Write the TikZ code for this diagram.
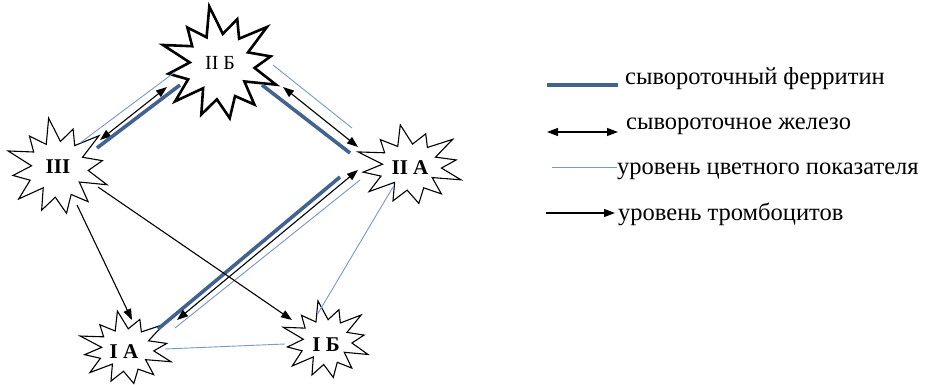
\documentclass[tikz,border=0pt]{standalone}
\usepackage{fontspec}
\setmainfont{Liberation Serif}
\usetikzlibrary{arrows.meta,calc}

\definecolor{ferrblue}{RGB}{66,98,146}
\definecolor{cpblue}{RGB}{122,152,200}

\tikzset{
  stage/.style={font=\fontsize{21}{23}\selectfont\bfseries, inner sep=0pt},
  stagelight/.style={font=\fontsize{20}{22}\selectfont, inner sep=0pt},
  legtext/.style={font=\fontsize{24.5}{26}\selectfont, inner sep=0pt, anchor=base west},
  ferritin/.style={draw=ferrblue, line width=3.6pt},
  colorindex/.style={draw=cpblue, line width=0.9pt},
  plateletline/.style={draw=black, line width=1.1pt, -{Triangle[length=11pt,width=8pt]}},
  ironline/.style={draw=black, line width=1.1pt, {Triangle[length=11pt,width=8pt]}-{Triangle[length=11pt,width=8pt]}},
  burstline/.style={draw=black, line width=1.1pt, line join=miter, fill=white},
}

% explosion outline: centre shift, x radius, y radius, number of points
\newcommand\drawburst[5][]{%
  \draw[burstline,#1,shift={(#2)}]
    plot[domain=0:2*#5-1, samples=2*#5, variable=\k]
      ({(#3)*(1+0.1*sin(\k*97))*(1-0.42*mod(round(\k),2))*cos(\k*180/#5+80)},
       {(#4)*(1+0.1*sin(\k*97))*(1-0.42*mod(round(\k),2))*sin(\k*180/#5+80)}) -- cycle;}

\begin{document}
\begin{tikzpicture}[x=1pt,y=-1pt]
\useasboundingbox (0,0) rectangle (927,385);

% stage outlines
\drawburst[line width=2.6pt]{220,65}{56}{54}{12}
\drawburst{58,168}{49}{46}{12}
\drawburst{410,166}{51}{38}{12}
\drawburst{126,349}{45}{35}{12}
\drawburst{326,341}{42}{37}{12}

% stage labels
\node[stagelight] (IIB) at (220,63) {II Б};
\node[stage] (III) at (58,167) {III};
\node[stage] (IIA) at (410,168) {II A};
\node[stage] (IA) at (124,352) {I A};
\node[stage] (IB) at (326,345) {I Б};

% III -- II Б
\draw[colorindex] ($(III)+(22,-24)$) -- ($(IIB)+(-45,9)$);
\draw[ironline] ($(III)+(42,-27)$) -- ($(IIB)+(-53,24)$);
\draw[ferritin] ($(III)+(39,-19)$) -- ($(IIB)+(-40,22)$);

% II Б -- II A
\draw[ferritin] ($(IIB)+(42,22)$) -- ($(IIA)+(-60,-15)$);
\draw[ironline] ($(IIB)+(63,24)$) -- ($(IIA)+(-52,-21)$);
\draw[colorindex] ($(IIB)+(53,2)$) -- ($(IIA)+(-58,-40)$);

% II A -- I A
\draw[ferritin] ($(IA)+(34,-23)$) -- ($(IIA)+(-70,9)$);
\draw[ironline] ($(IA)+(53,-32)$) -- ($(IIA)+(-52,2)$);
\draw[colorindex] ($(IA)+(51,-24)$) -- ($(IIA)+(-50,12)$);

% III -- I A, III -- I Б
\draw[plateletline] ($(III)+(19,38)$) -- ($(IA)+(8,-32)$);
\draw[plateletline] ($(III)+(40,20)$) -- ($(IB)+(-34,-25)$);

% I A -- I Б, II A -- I Б
\draw[colorindex] ($(IA)+(41,-3)$) -- ($(IB)+(-41,-1)$);
\draw[colorindex] ($(IIA)+(-17,19)$) -- ($(IB)+(-9,-30)$);

% legend
\node[legtext] (L1) at (625,85) {сывороточный ферритин};
\node[legtext] (L2) at (626,130) {сывороточное железо};
\node[legtext] (L3) at (617,175) {уровень цветного показателя};
\node[legtext] (L4) at (618,220) {уровень тромбоцитов};
\draw[ferritin] ($(L1.base west)+(-78,0)$) -- ($(L1.base west)+(-7,0)$);
\draw[ironline] ($(L2.base west)+(-79,2)$) -- ($(L2.base west)+(-8,2)$);
\draw[colorindex] ($(L3.base west)+(-65,-8)$) -- ($(L3.base west)+(0,-8)$);
\draw[plateletline] ($(L4.base west)+(-72,-7)$) -- ($(L4.base west)+(-3,-7)$);
\end{tikzpicture}
\end{document}
